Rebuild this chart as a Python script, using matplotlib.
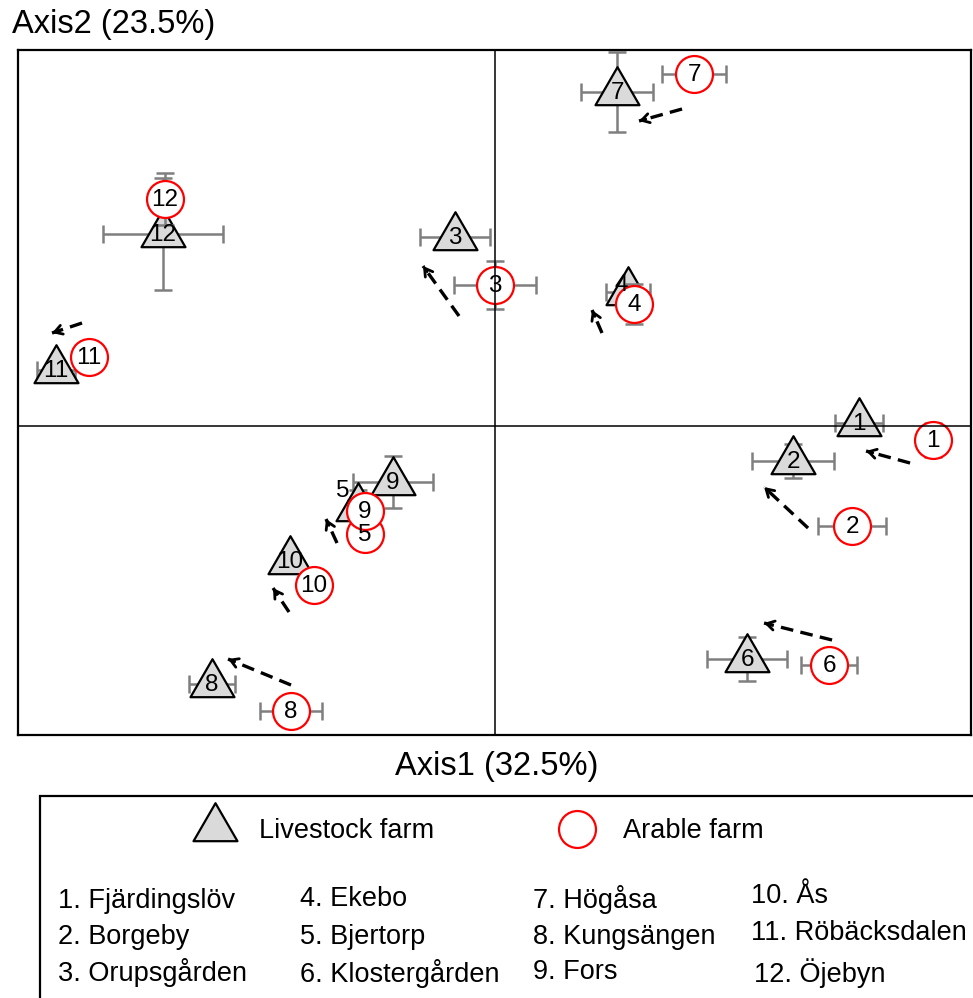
import numpy as np
import matplotlib
matplotlib.use("Agg")
import matplotlib.pyplot as plt
from matplotlib.path import Path
from matplotlib.lines import Line2D
from matplotlib.patches import Rectangle

plt.rcParams['font.family'] = ['Liberation Sans', 'DejaVu Sans']

# farm ids and names
ids = ['1', '2', '3', '4', '5', '6', '7', '8', '9', '10', '11', '12']
names = ['Fjärdingslöv', 'Borgeby', 'Orupsgården', 'Ekebo', 'Bjertorp',
         'Klostergården', 'Högåsa', 'Kungsängen', 'Fors', 'Ås',
         'Röbäcksdalen', 'Öjebyn']

# livestock farm scores (axis1, axis2) and SE
live_x = [3.64, 2.98, -0.40, 1.33, -1.37, 2.52, 1.22, -2.83, -1.02, -2.05, -4.39, -3.32]
live_y = [0.03, -0.35, 1.89, 1.34, -0.82, -2.33, 3.34, -2.58, -0.56, -1.35, 0.56, 1.92]
live_xerr = [0.24, 0.41, 0.35, 0.22, 0.10, 0.40, 0.36, 0.23, 0.40, 0.10, 0.19, 0.60]
live_yerr = [0.0, 0.17, 0.0, 0.08, 0.18, 0.22, 0.40, 0.0, 0.26, 0.05, 0.06, 0.56]

# arable farm scores (axis1, axis2) and SE
ara_x = [4.38, 3.57, 0.00, 1.39, -1.30, 3.34, 1.99, -2.04, -1.30, -1.81, -4.06, -3.30]
ara_y = [-0.14, -1.00, 1.41, 1.22, -1.08, -2.39, 3.52, -2.85, -0.85, -1.59, 0.69, 2.27]
ara_xerr = [0.0, 0.34, 0.41, 0.15, 0.0, 0.28, 0.32, 0.31, 0.0, 0.0, 0.0, 0.0]
ara_yerr = [0.17, 0.0, 0.24, 0.20, 0.0, 0.0, 0.0, 0.0, 0.0, 0.0, 0.0, 0.26]

# dashed arrows (start -> end)
arr_x0 = [4.15, 3.13, -0.36, 1.07, -1.58, 3.37, 1.87, -2.04, -2.06, -4.13]
arr_y0 = [-0.37, -1.02, 1.10, 0.93, -1.17, -2.14, 3.17, -2.59, -1.86, 1.03]
arr_x1 = [3.71, 2.69, -0.72, 0.97, -1.69, 2.69, 1.44, -2.67, -2.22, -4.43]
arr_y1 = [-0.25, -0.61, 1.60, 1.16, -0.93, -1.97, 3.05, -2.33, -1.62, 0.93]

# triangle marker centred on its centroid
tri = Path([(0, 25.3), (-22, -12.7), (22, -12.7), (0, 25.3)],
           [Path.MOVETO, Path.LINETO, Path.LINETO, Path.CLOSEPOLY])
TRI_MS = 36.4
CIR_MS = 26.6
GREY = '#dadada'
ECOL = '#7f7f7f'

fig = plt.figure(figsize=(9.73, 9.98), dpi=100)
ax = fig.add_axes([0.0185, 0.2635, 0.9795, 0.6864])
ax.set_xlim(-4.77, 4.76)
ax.set_ylim(-3.09, 3.76)
ax.set_xticks([])
ax.set_yticks([])
for s in ax.spines.values():
    s.set_linewidth(1.6)

ax.axvline(0, color='black', lw=1.1, zorder=5)
ax.axhline(0, color='black', lw=1.1, zorder=5)


def errbars(xs, ys, xe, ye, z):
    for x, y, dx, dy in zip(xs, ys, xe, ye):
        ax.errorbar(x, y, xerr=dx if dx > 0 else None, yerr=dy if dy > 0 else None,
                    fmt='none', ecolor=ECOL, elinewidth=1.8, capsize=6.8,
                    capthick=1.8, zorder=z)


errbars(live_x, live_y, live_xerr, live_yerr, 1)
errbars(ara_x, ara_y, ara_xerr, ara_yerr, 3)

ax.plot(live_x, live_y, ls='none', marker=tri, ms=TRI_MS, mfc=GREY,
        mec='black', mew=1.6, zorder=2)
ax.plot(ara_x, ara_y, ls='none', marker='o', ms=CIR_MS, mfc='white',
        mec='red', mew=1.6, zorder=4)

# label offsets (points) for crowded triangles
off = {'4': (-5, 5), '5': (-11, 12)}
for i, lab in enumerate(ids):
    ax.annotate(lab, (live_x[i], live_y[i]), xytext=off.get(lab, (0, -1)),
                textcoords='offset points', ha='center', va='center',
                fontsize=17.5, zorder=6)
    ax.annotate(lab, (ara_x[i], ara_y[i]), xytext=(0, -1),
                textcoords='offset points', ha='center', va='center',
                fontsize=17.5, zorder=6)

for x0, y0, x1, y1 in zip(arr_x0, arr_y0, arr_x1, arr_y1):
    ax.plot([x0, x1], [y0, y1], color='black', lw=2.4, ls=(0, (3.8, 2.2)),
            zorder=5)
    dx, dy = x1 - x0, y1 - y0
    L = np.hypot(dx, dy)
    ax.annotate('', xy=(x1, y1), xytext=(x1 - 0.07 * dx / L, y1 - 0.07 * dy / L),
                arrowprops=dict(arrowstyle='->,head_length=0.55,head_width=0.33',
                                color='black', lw=2.0, shrinkA=0, shrinkB=0),
                zorder=5)

fig.text(0.012, 0.975, 'Axis2 (23.5%)', fontsize=23.5, ha='left', va='center')
fig.text(0.51, 0.232, 'Axis1 (32.5%)', fontsize=23.5, ha='center', va='center')

# legend box
fig.add_artist(Rectangle((0.0411, -0.1), 1.2, 0.3024, transform=fig.transFigure,
                         fill=False, lw=1.6, ec='black'))
fig.add_artist(Line2D([0.221], [0.1703], marker=tri, ms=TRI_MS, mfc=GREY,
                      mec='black', mew=1.6, transform=fig.transFigure))
fig.add_artist(Line2D([0.593], [0.1693], marker='o', ms=CIR_MS, mfc='white',
                      mec='red', mew=1.6, transform=fig.transFigure))
fig.text(0.266, 0.1673, 'Livestock farm', fontsize=19.5, ha='left', va='center')
fig.text(0.640, 0.1673, 'Arable farm', fontsize=19.5, ha='left', va='center')

col_x = [0.060, 0.308, 0.548, 0.772]
row_y = [[0.097, 0.061, 0.026], [0.099, 0.061, 0.025],
         [0.099, 0.061, 0.026], [0.102, 0.065, 0.025]]
for i, (lab, nm) in enumerate(zip(ids, names)):
    c, r = divmod(i, 3)
    xx = col_x[c] + (0.003 if lab == '12' else 0)
    fig.text(xx, row_y[c][r], f'{lab}. {nm}', fontsize=19.5, ha='left', va='center')

fig.savefig('out.png', dpi=100)
